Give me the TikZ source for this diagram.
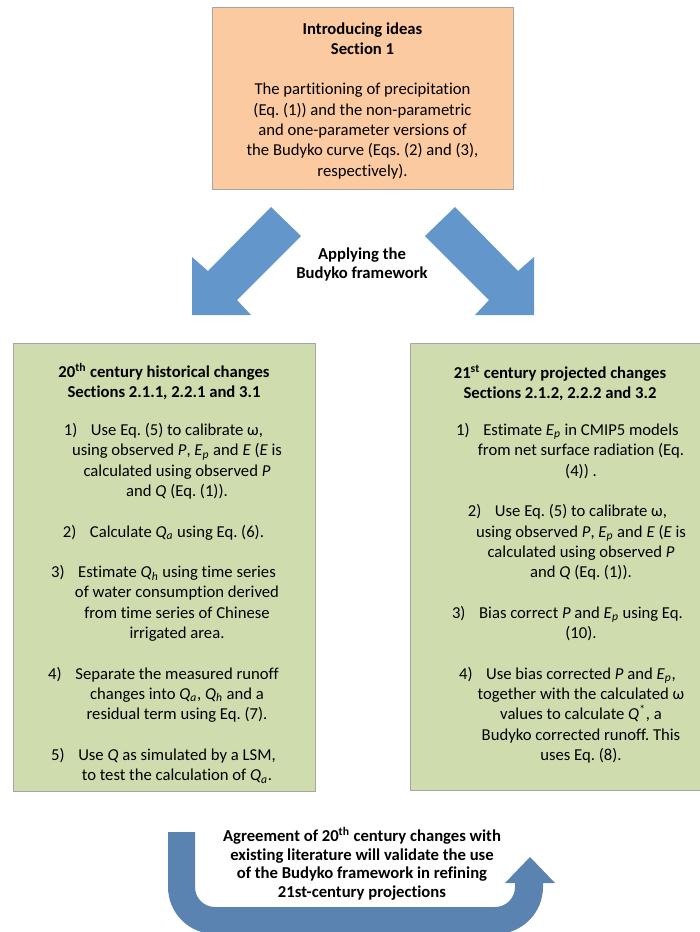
\documentclass[tikz,border=0pt]{standalone}
\usepackage{fontspec}
\setmainfont{Carlito}[Ligatures=NoCommon]
\usetikzlibrary{fit}

\definecolor{introorange}{HTML}{FBCAA0}
\definecolor{stepgreen}{HTML}{CFDDAE}
\definecolor{boxgray}{HTML}{A6A6A6}
\definecolor{arrowblue}{HTML}{6396CA}
\definecolor{turnblue}{HTML}{5B83B1}

\newcommand{\qsub}[2]{\textit{#1}\textsubscript{\textit{#2}}}
\newcommand{\stepno}[1]{\llap{#1\hspace{9pt}}}
\frenchspacing

\begin{document}
\begin{tikzpicture}[
  x=0.66pt, y=-0.66pt,
  introbox/.style={rectangle, draw=boxgray, fill=introorange, line width=0.66pt,
                   inner sep=0pt},
  stepbox/.style={rectangle, draw=boxgray, fill=stepgreen, line width=0.66pt,
                  inner sep=0pt},
  headtext/.style={anchor=north, align=center, inner sep=0pt,
                   font=\bfseries\fontsize{11}{13.4}\selectfont},
  bodytext/.style={anchor=north, align=center, inner sep=0pt,
                   font=\fontsize{11}{13.4}\selectfont},
  notetext/.style={anchor=north, align=center, inner sep=0pt,
                   font=\bfseries\fontsize{11}{12.3}\selectfont},
  fatarrow/.style={fill=arrowblue, draw=none},
  turnarrow/.style={fill=turnblue, draw=none}
]
\useasboundingbox (0,0) rectangle (700,932);
\clip (0,0) rectangle (700,932);

% Row Y=7: Introducing ideas
\node[introbox, fit={(212,7) (513,189)}] (intro) {};
\node[headtext] (introhead) at (362.5,22) {Introducing ideas\\ Section 1};
\node[bodytext] (introtext) at (362.5,83)
  {The partitioning of precipitation\\ (Eq. (1)) and the non-parametric\\
   and one-parameter versions of\\ the Budyko curve (Eqs. (2) and (3),\\
   respectively).};

% Row Y=247: label between the two fat arrows
\node[notetext, font=\bfseries\fontsize{11}{12.6}\selectfont] (apply) at (362,247)
  {Applying the\\ Budyko framework};

% Row Y=343: historical (left) and projected (right) boxes
\node[stepbox, fit={(13,343) (315,791)}] (hist) {};
\node[stepbox, fit={(410,343) (712,790)}] (proj) {};

\node[headtext] (histhead) at (164,363)
  {20\textsuperscript{th} century historical changes\\ Sections 2.1.1, 2.2.1 and 3.1};
\node[bodytext] (histsteps) at (177,423)
  {\stepno{1)}Use Eq. (5) to calibrate ω,\\
   using observed \textit{P}, \qsub{E}{p} and \textit{E} (\textit{E} is\\
   calculated using observed \textit{P}\\
   and \textit{Q} (Eq. (1)).\\[13.4pt]
   \stepno{2)}Calculate \qsub{Q}{a} using Eq. (6).\\[13.4pt]
   \stepno{3)}Estimate \qsub{Q}{h} using time series\\
   of water consumption derived\\
   from time series of Chinese\\
   irrigated area.\\[13.4pt]
   \stepno{4)}Separate the measured runoff\\
   changes into \qsub{Q}{a}, \qsub{Q}{h} and a\\
   residual term using Eq. (7).\\[13.4pt]
   \stepno{5)}Use \textit{Q} as simulated by a LSM,\\
   to test the calculation of \qsub{Q}{a}.};

\node[headtext] (projhead) at (560,365)
  {21\textsuperscript{st} century projected changes\\ Sections 2.1.2, 2.2.2 and 3.2};
\node[bodytext] (projsteps) at (581,423)
  {\stepno{1)}Estimate \qsub{E}{p} in CMIP5 models\\
   from net surface radiation (Eq.\\
   (4)) .\\[13.4pt]
   \stepno{2)}Use Eq. (5) to calibrate ω,\\
   using observed \textit{P}, \qsub{E}{p} and \textit{E} (\textit{E} is\\
   calculated using observed \textit{P}\\
   and \textit{Q} (Eq. (1)).\\[13.4pt]
   \stepno{3)}Bias correct \textit{P} and \qsub{E}{p} using Eq.\\
   (10).\\[13.4pt]
   \stepno{4)}Use bias corrected \textit{P} and \qsub{E}{p},\\
   together with the calculated ω\\
   values to calculate \textit{Q}\textsuperscript{*}, a\\
   Budyko corrected runoff. This\\
   uses Eq. (8).};

% Row Y=827: closing note inside the U-turn
\node[notetext] (agree) at (362,827)
  {Agreement of 20\textsuperscript{th} century changes with\\
   existing literature will validate the use\\
   of the Budyko framework in refining\\
   21st-century projections};

% --- Arrows ---
% Intro -> historical box (fat arrow, down-left)
\fill[fatarrow] (271,207) -- (301,236) -- (237,300) -- (251,315) -- (192,315)
  -- (192,257) -- (208,271) -- cycle;

% Intro -> projected box (fat arrow, down-right)
\fill[fatarrow] (455,207) -- (425,236) -- (489,300) -- (475,315) -- (534,315)
  -- (534,257) -- (518,271) -- cycle;

% Historical -> projected (U-turn arrow)
\fill[turnarrow] (168,832) -- (195,832) -- (195,887)
  arc[start angle=180, end angle=90, radius=20] -- (495,907)
  arc[start angle=90, end angle=0, radius=20] -- (515,883) -- (505,883)
  -- (530,857) -- (555,883) -- (543,883) -- (543,887)
  arc[start angle=0, end angle=90, radius=47] -- (215,934)
  arc[start angle=90, end angle=180, radius=47] -- cycle;

\end{tikzpicture}
\end{document}
